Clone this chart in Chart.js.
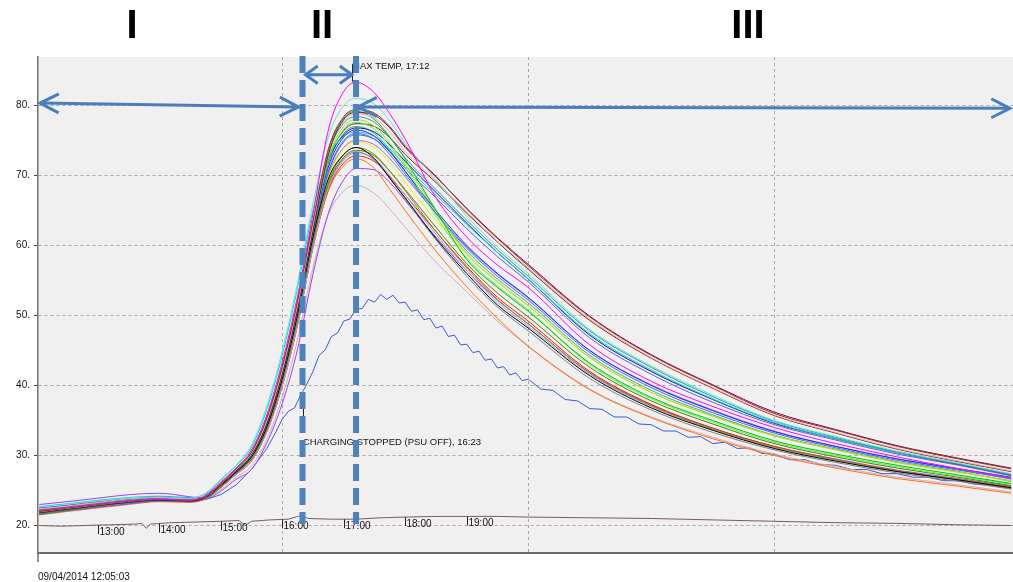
<!DOCTYPE html>
<html>
<head>
<meta charset="utf-8">
<title>Cell temperatures</title>
<script src="https://cdn.jsdelivr.net/npm/chart.js@4.4.0/dist/chart.umd.min.js"></script>
<style>
  html, body { margin: 0; padding: 0; background: #fff; }
  canvas { display: block; }
</style>
</head>
<body>
<canvas id="chart" width="1013" height="582"></canvas>
<script>
// Battery cell temperatures during charge test, started 09/04/2014 12:05:03.
// Hours are decimal clock time (27.85 = 03:51 next day).

const HOURS = [12.05, 12.5, 13, 13.5, 14, 14.5, 14.75, 15, 15.25, 15.5, 15.75, 16, 16.25, 16.5, 16.75, 17,
  17.2, 17.5, 17.75, 18, 18.5, 19, 19.5, 20, 21, 22, 23, 24, 25, 26, 27, 27.85];

const t01 = [22.2, 22.6, 23.1, 23.5, 23.8, 23.6, 24.3, 26.2, 28.2, 30.8, 35.8, 43.3, 52.8, 64.5, 76.5, 82.0, 83.3, 81.8, 78.8, 75.2, 66.8, 61.2, 57.2, 54.0, 45.8, 40.6, 37.0, 34.0, 31.7, 29.8, 28.1, 26.8];
const t02 = [22.6, 23.0, 23.5, 23.9, 24.1, 23.9, 24.6, 26.6, 28.6, 31.5, 37.1, 44.9, 54.7, 66.0, 75.5, 80.0, 81.0, 80.2, 77.8, 74.6, 69.4, 64.2, 59.8, 56.0, 48.0, 42.8, 38.6, 35.0, 32.7, 30.6, 28.9, 27.4];
const t03 = [22.0, 22.5, 23.0, 23.5, 23.7, 23.6, 24.2, 26.0, 28.1, 30.5, 35.4, 42.7, 52.1, 63.5, 73.8, 78.4, 79.4, 78.9, 77.0, 74.2, 69.9, 65.2, 61.0, 57.1, 49.8, 44.3, 40.0, 36.0, 33.6, 31.3, 29.5, 28.1];
const t04 = [21.8, 22.3, 22.8, 23.3, 23.6, 23.5, 24.0, 25.8, 27.8, 30.0, 34.5, 41.5, 50.8, 62.0, 73.0, 78.0, 79.0, 78.6, 76.8, 74.0, 69.8, 65.3, 61.1, 57.3, 49.9, 44.4, 40.1, 36.2, 33.7, 31.4, 29.6, 28.2];
const t05 = [22.4, 22.8, 23.3, 23.8, 24.0, 23.8, 24.1, 25.9, 27.9, 30.3, 34.9, 42.1, 51.5, 62.7, 73.2, 77.8, 78.8, 78.2, 76.2, 73.4, 69.2, 64.8, 60.6, 56.8, 49.5, 44.0, 39.7, 35.8, 33.3, 31.0, 29.2, 27.8];
const t06 = [22.1, 22.6, 23.1, 23.6, 23.9, 23.7, 24.2, 26.0, 28.1, 30.5, 35.4, 42.7, 52.1, 63.5, 73.2, 77.5, 78.4, 77.6, 75.4, 72.5, 68.0, 63.6, 59.4, 55.6, 47.8, 42.6, 38.4, 34.9, 32.6, 30.5, 28.8, 27.3];
const t07 = [21.7, 22.2, 22.8, 23.3, 23.6, 23.5, 24.1, 25.9, 27.9, 30.3, 34.9, 42.1, 51.5, 62.7, 73.5, 78.2, 79.2, 78.0, 75.5, 72.3, 65.0, 58.0, 54.0, 50.6, 43.2, 38.3, 35.0, 32.1, 30.2, 28.6, 27.2, 26.0];
const t08 = [22.3, 22.7, 23.2, 23.6, 23.9, 23.7, 24.0, 25.8, 27.8, 30.0, 34.5, 41.5, 50.8, 62.0, 72.0, 76.6, 77.6, 76.6, 74.2, 71.2, 64.2, 58.2, 54.2, 50.8, 43.0, 38.1, 34.8, 31.9, 30.0, 28.4, 27.0, 25.9];
const t09 = [21.9, 22.4, 22.9, 23.4, 23.7, 23.6, 24.1, 25.9, 27.9, 30.3, 34.9, 42.1, 51.5, 62.7, 72.6, 77.0, 78.0, 77.0, 74.6, 71.6, 65.0, 58.8, 54.8, 51.4, 44.0, 39.0, 35.6, 32.8, 30.8, 29.0, 27.6, 26.4];
const t10 = [22.0, 22.4, 22.9, 23.4, 23.7, 23.5, 24.0, 25.7, 27.6, 29.8, 34.1, 41.0, 50.2, 61.2, 69.5, 73.0, 74.0, 72.4, 69.6, 66.8, 61.0, 56.0, 51.5, 48.2, 41.4, 36.8, 33.6, 31.0, 29.2, 27.7, 26.5, 25.4];
const t11 = [22.5, 22.9, 23.4, 23.8, 24.1, 23.9, 24.0, 25.8, 27.8, 30.0, 34.5, 41.5, 50.8, 62.0, 71.2, 75.5, 76.5, 75.6, 73.4, 70.6, 65.0, 60.0, 56.0, 52.6, 45.0, 40.0, 36.4, 33.4, 31.3, 29.5, 28.1, 26.9];
const t12 = [21.6, 22.1, 22.6, 23.1, 23.5, 23.4, 24.0, 25.7, 27.6, 29.8, 34.1, 41.0, 50.2, 61.2, 70.6, 75.0, 76.0, 75.2, 73.0, 70.2, 64.6, 59.6, 55.6, 52.2, 44.7, 39.7, 36.1, 33.2, 31.1, 29.3, 27.9, 26.7];
const t13 = [22.2, 22.6, 23.1, 23.6, 23.9, 23.7, 24.0, 25.7, 27.6, 29.8, 34.1, 41.0, 50.2, 61.2, 70.4, 74.8, 75.8, 75.2, 73.4, 71.0, 66.8, 62.4, 58.4, 54.8, 46.8, 41.6, 37.6, 34.4, 32.2, 30.2, 28.6, 27.1];
const t14 = [22.7, 23.1, 23.6, 24.0, 24.2, 24.0, 24.5, 26.5, 28.5, 31.2, 36.6, 44.3, 54.0, 65.0, 72.6, 75.6, 76.2, 75.6, 73.8, 71.4, 67.2, 63.0, 59.0, 55.2, 47.4, 42.2, 38.1, 34.7, 32.4, 30.4, 28.8, 27.3];
const t15 = [22.0, 22.5, 23.0, 23.5, 23.8, 23.6, 24.0, 25.7, 27.6, 29.8, 34.1, 41.0, 50.2, 61.2, 69.8, 73.8, 74.8, 74.0, 71.8, 69.0, 63.6, 58.8, 54.8, 51.4, 44.0, 39.0, 35.6, 32.8, 30.8, 29.0, 27.6, 26.4];
const t16 = [21.8, 22.3, 22.8, 23.3, 23.6, 23.5, 23.9, 25.5, 27.5, 29.5, 33.8, 40.6, 49.6, 60.6, 69.0, 73.0, 74.0, 73.0, 70.6, 67.8, 62.0, 56.8, 52.3, 48.8, 41.8, 37.1, 33.8, 31.2, 29.4, 27.8, 26.6, 25.5];
const t17 = [22.3, 22.7, 23.2, 23.7, 24.0, 23.8, 23.9, 25.5, 27.5, 29.5, 33.8, 40.6, 49.6, 60.6, 68.8, 72.6, 73.6, 72.8, 70.6, 68.0, 62.6, 57.4, 53.2, 49.8, 42.6, 37.8, 34.5, 31.7, 29.8, 28.2, 26.9, 25.7];
const t18 = [21.6, 22.1, 22.6, 23.1, 23.5, 23.4, 23.9, 25.5, 27.5, 29.5, 33.8, 40.6, 49.6, 60.6, 68.6, 72.4, 73.4, 72.2, 69.6, 66.6, 60.8, 55.6, 51.2, 47.8, 41.0, 36.5, 33.3, 30.8, 29.0, 27.5, 26.3, 25.2];
const t19 = [22.1, 22.5, 23.0, 23.5, 23.8, 23.6, 23.8, 25.4, 27.3, 29.2, 33.4, 39.9, 48.7, 59.7, 68.2, 72.2, 73.2, 72.4, 70.0, 67.2, 61.6, 56.4, 51.9, 48.5, 41.6, 37.0, 33.7, 31.1, 29.3, 27.7, 26.5, 25.4];
const t20 = [21.9, 22.4, 22.9, 23.4, 23.7, 23.5, 23.8, 25.4, 27.3, 29.2, 33.4, 39.9, 48.7, 59.7, 68.0, 71.8, 72.8, 72.0, 69.8, 67.2, 62.0, 57.0, 52.6, 49.2, 42.0, 37.3, 33.9, 31.3, 29.4, 27.8, 26.5, 25.3];
const t21 = [21.5, 22.0, 22.5, 23.0, 23.4, 23.3, 23.8, 25.4, 27.3, 29.2, 33.4, 39.9, 48.7, 59.7, 67.8, 71.4, 72.4, 71.0, 68.0, 65.0, 59.2, 54.1, 49.6, 45.6, 39.4, 35.4, 32.4, 30.0, 28.2, 26.7, 25.6, 24.6];
const t22 = [23.0, 23.4, 23.9, 24.4, 24.6, 24.1, 23.8, 24.9, 26.6, 28.0, 31.8, 37.4, 45.2, 55.9, 64.6, 69.4, 71.0, 70.8, 69.0, 66.4, 61.2, 56.4, 52.2, 48.8, 41.8, 37.2, 33.9, 31.3, 29.5, 27.9, 26.7, 25.6];
const t23 = [21.7, 22.2, 22.7, 23.2, 23.5, 23.4, 23.8, 25.1, 26.9, 28.5, 32.3, 38.3, 46.6, 56.8, 64.4, 67.8, 68.6, 67.4, 65.2, 62.6, 57.6, 53.4, 49.2, 45.6, 39.5, 35.5, 32.6, 30.2, 28.4, 26.9, 25.8, 24.8];
const t24 = [22.4, 22.8, 23.3, 23.7, 24.0, 23.8, 23.9, 25.5, 27.5, 29.5, 33.8, 40.6, 49.6, 60.6, 70.0, 74.0, 75.0, 74.4, 72.4, 69.8, 64.6, 59.8, 55.9, 52.5, 45.0, 40.1, 36.5, 33.5, 31.3, 29.5, 28.0, 26.6];
const t25 = [22.2, 22.6, 23.1, 23.6, 23.9, 23.7, 24.0, 25.8, 27.8, 30.0, 34.5, 41.5, 50.8, 62.0, 72.2, 76.4, 77.4, 77.0, 75.4, 73.0, 69.0, 64.6, 60.5, 56.6, 49.3, 43.9, 39.6, 35.7, 33.2, 30.9, 29.1, 27.7];
const t26 = [21.9, 22.3, 22.8, 23.3, 23.6, 23.5, 24.1, 25.9, 27.9, 30.3, 34.9, 42.1, 51.5, 62.7, 72.0, 75.8, 76.8, 76.2, 74.4, 72.0, 67.6, 63.2, 59.0, 55.2, 47.2, 42.0, 38.0, 34.6, 32.4, 30.4, 28.7, 27.2];
const t27 = [22.5, 22.9, 23.4, 23.8, 24.0, 23.8, 24.0, 25.8, 27.8, 30.0, 34.5, 41.5, 50.8, 62.0, 71.6, 76.0, 77.0, 76.0, 73.6, 70.6, 64.6, 59.2, 55.2, 51.8, 44.3, 39.3, 35.8, 32.9, 30.9, 29.1, 27.7, 26.3];

const CELLS = [t01, t02, t03, t04, t05, t06, t07, t08, t09, t10, t11, t12, t13, t14, t15, t16, t17, t18, t19,
  t20, t21, t22, t23, t24, t25, t26, t27];

// the one cell that stayed much cooler (noisy trace)
const COOL_HOURS = [12.05, 12.5, 13, 13.5, 14, 14.5, 14.75, 15, 15.25, 15.5, 15.75, 15.9,
  16.0, 16.1, 16.2, 16.3, 16.4, 16.5, 16.6, 16.7, 16.8, 16.9, 17.0, 17.1, 17.2, 17.3, 17.4, 17.5, 17.6, 17.7,
  17.8, 17.9, 18.0, 18.1, 18.2, 18.3, 18.4, 18.5, 18.6, 18.7, 18.8, 18.9, 19.0, 19.1, 19.2, 19.3, 19.4, 19.5,
  19.6, 19.7, 19.8, 19.9, 20.0, 20.2, 20.4, 20.6, 20.8, 21.0, 21.2, 21.4, 21.6, 21.8, 22.0, 22.2, 22.4, 22.6,
  22.8, 23.0, 23.2, 23.4, 23.6, 23.8, 24.0, 24.25, 24.5, 24.75, 25.0, 25.25, 25.5, 25.75, 26.0, 26.25, 26.5,
  26.75, 27.0, 27.25, 27.5, 27.85];
const COOL_TEMPS = [22.0, 22.5, 23.0, 23.4, 23.6, 23.4, 23.7, 24.4, 25.8, 28.0, 31.0, 33.4,
  35.2, 36.3, 36.8, 38.6, 40.2, 42.0, 44.3, 45.1, 47.0, 47.5, 49.2, 49.5, 50.9, 51.0, 52.3, 51.9, 53.0, 52.3,
  52.9, 51.8, 51.9, 50.6, 50.8, 49.4, 49.6, 48.2, 48.5, 47.0, 47.2, 45.8, 45.9, 44.7, 44.9, 43.6, 43.8, 42.5,
  42.7, 41.5, 41.8, 40.7, 40.9, 39.5, 39.3, 38.0, 37.8, 36.7, 36.6, 35.5, 35.5, 34.5, 34.4, 33.5, 33.5, 32.6,
  32.7, 31.7, 31.9, 31.0, 31.1, 30.3, 30.2, 29.4, 29.4, 28.7, 28.6, 28.0, 28.0, 27.4, 27.4, 26.9, 26.9,
  26.4, 26.4, 25.9, 25.8, 25.3];

// ambient probe
const AMB_HOURS = [12.05, 12.4, 12.8, 13.2, 13.6, 13.72, 13.79, 13.86, 14.2, 14.6, 15, 15.3, 15.4, 15.5, 15.8, 16.1,
  16.25, 16.32, 16.42, 16.8, 17.2, 17.6, 18, 18.5, 19, 19.5, 20, 21, 22, 23, 24, 25, 26, 27, 27.85];
const AMB_TEMPS = [20.0, 19.9, 20.0, 20.1, 20.2, 20.3, 19.6, 20.2, 20.4, 20.5, 20.6, 20.7, 20.0, 20.6, 20.8, 20.9,
  21.3, 21.4, 21.0, 20.9, 20.9, 21.1, 21.2, 21.3, 21.3, 21.3, 21.2, 21.1, 21.0, 20.8, 20.6, 20.4, 20.3, 20.1, 20.0];

const HOUR_LABELS = [13, 14, 15, 16, 17, 18, 19];
const Y_TICKS = [20, 30, 40, 50, 60, 70, 80];
const X_GRID = [16, 20, 24];
const CHARGE_STOP = 16 + 23 / 60;
const MAX_TEMP = 17 + 12 / 60;
const PHASE_EDGES = [16.33, MAX_TEMP];
const PHASES = ["I", "II", "III"];

const CELL_COLORS = ["#ff00ff", "#70e0c8", "#804020", "#800060", "#f8a8a0", "#20a0a0", "#00c000", "#40ff40",
  "#a8d820", "#000000", "#2020ff", "#4070e0", "#6a5acd", "#00d8e0", "#f0f000", "#909000", "#508000", "#808080",
  "#90a8ff", "#ff1010", "#ff7010", "#a040f0", "#d8a8b8", "#9070e0", "#802020", "#101090", "#40b080"];
const FONT = '"Liberation Sans", Arial, sans-serif';
const ARROW = "#4a7ebb";

const pts = (xs, ys) => ys.map((y, i) => ({ x: xs[i], y }));

function ambientAt(h) {
  for (let i = 1; i < AMB_HOURS.length; i++) {
    if (h <= AMB_HOURS[i]) {
      const f = (h - AMB_HOURS[i - 1]) / (AMB_HOURS[i] - AMB_HOURS[i - 1]);
      return AMB_TEMPS[i - 1] + f * (AMB_TEMPS[i] - AMB_TEMPS[i - 1]);
    }
  }
  return AMB_TEMPS[AMB_TEMPS.length - 1];
}

function arrowHead(ctx, x, y, ang, len, spread) {
  ctx.beginPath();
  ctx.moveTo(x + len * Math.cos(ang + spread), y + len * Math.sin(ang + spread));
  ctx.lineTo(x, y);
  ctx.lineTo(x + len * Math.cos(ang - spread), y + len * Math.sin(ang - spread));
  ctx.stroke();
}

function arrow(ctx, x1, y1, x2, y2, len, spread) {
  ctx.beginPath();
  ctx.moveTo(x1, y1);
  ctx.lineTo(x2, y2);
  ctx.stroke();
  const a = Math.atan2(y2 - y1, x2 - x1);
  arrowHead(ctx, x1, y1, a, len, spread);
  arrowHead(ctx, x2, y2, a + Math.PI, len, spread);
}

const overlay = {
  id: "overlay",
  beforeDraw(chart) {
    const { ctx, chartArea: a } = chart;
    ctx.save();
    ctx.fillStyle = "#fff";
    ctx.fillRect(0, 0, chart.width, chart.height);
    ctx.fillStyle = "#f0f0f0";
    ctx.fillRect(a.left, a.top, a.right - a.left, a.bottom - a.top);
    ctx.restore();
  },
  afterDraw(chart) {
    const { ctx, chartArea: a } = chart;
    const xs = chart.scales.x, ys = chart.scales.y;
    ctx.save();

    // left axis runs a little below the plot
    ctx.strokeStyle = "#707070";
    ctx.lineWidth = 1.5;
    ctx.beginPath();
    ctx.moveTo(a.left, a.bottom);
    ctx.lineTo(a.left, a.bottom + 9);
    ctx.stroke();

    // hour marks hang off the ambient trace
    ctx.font = "10px " + FONT;
    ctx.fillStyle = "#111";
    ctx.strokeStyle = "#222";
    ctx.lineWidth = 1;
    ctx.textBaseline = "middle";
    ctx.textAlign = "left";
    for (const h of HOUR_LABELS) {
      const x = Math.round(xs.getPixelForValue(h)) + 0.5;
      const y = ys.getPixelForValue(ambientAt(h));
      ctx.beginPath();
      ctx.moveTo(x, y);
      ctx.lineTo(x, y + 9);
      ctx.stroke();
      ctx.fillText(h + ":00", x + 1, y + 7);
    }

    // event notes
    ctx.font = "9.5px " + FONT;
    const xm = xs.getPixelForValue(MAX_TEMP);
    ctx.beginPath();
    ctx.moveTo(Math.round(xm) - 3.5, ys.getPixelForValue(85.9));
    ctx.lineTo(Math.round(xm) - 3.5, ys.getPixelForValue(83.4));
    ctx.stroke();
    ctx.fillText("MAX TEMP, 17:12", xm - 4, ys.getPixelForValue(85.6));

    const xc = xs.getPixelForValue(CHARGE_STOP);
    ctx.beginPath();
    ctx.moveTo(Math.round(xc) - 2.5, ys.getPixelForValue(38.9));
    ctx.lineTo(Math.round(xc) - 2.5, ys.getPixelForValue(35.0));
    ctx.stroke();
    ctx.fillText("CHARGING STOPPED (PSU OFF), 16:23", xc - 3, ys.getPixelForValue(31.9));

    // phase boundaries
    const e0 = xs.getPixelForValue(PHASE_EDGES[0]);
    const e1 = xs.getPixelForValue(PHASE_EDGES[1]);
    ctx.strokeStyle = "#4f81bd";
    ctx.lineWidth = 6;
    ctx.setLineDash([17, 7]);
    for (const x of [e0, e1]) {
      ctx.beginPath();
      ctx.moveTo(x, a.top - 1);
      ctx.lineTo(x, ys.getPixelForValue(20.2));
      ctx.stroke();
    }
    ctx.setLineDash([]);

    // phase arrows
    ctx.strokeStyle = ARROW;
    ctx.lineWidth = 3;
    ctx.lineJoin = "miter";
    arrow(ctx, a.left + 2, ys.getPixelForValue(80.35), e0 - 4, ys.getPixelForValue(79.8), 21, 0.47);
    arrow(ctx, e0 + 3, ys.getPixelForValue(84.4), e1 - 4, ys.getPixelForValue(84.4), 15, 0.62);
    arrow(ctx, e1 + 2, ys.getPixelForValue(79.8), a.right - 3, ys.getPixelForValue(79.6), 21, 0.47);

    // phase numerals
    ctx.fillStyle = "#000";
    ctx.font = "bold 40px " + FONT;
    ctx.textAlign = "center";
    ctx.textBaseline = "alphabetic";
    const numX = [132, 322, 748];
    PHASES.forEach((p, i) => ctx.fillText(p, numX[i], 38));

    // start stamp
    ctx.font = "10px " + FONT;
    ctx.textAlign = "left";
    ctx.textBaseline = "middle";
    ctx.fillStyle = "#111";
    ctx.fillText("09/04/2014 12:05:03", a.left, 577);
    ctx.restore();
  },
};

const datasets = CELLS.map((c, i) => ({
  data: pts(HOURS, c),
  borderColor: CELL_COLORS[i],
  borderWidth: 1,
  cubicInterpolationMode: "monotone",
}));
datasets.push({ data: pts(COOL_HOURS, COOL_TEMPS), borderColor: "#3c5cc8", borderWidth: 1, tension: 0 });
datasets.push({ data: pts(AMB_HOURS, AMB_TEMPS), borderColor: "#7a5c52", borderWidth: 1, tension: 0 });

Chart.defaults.font.family = FONT;

new Chart(document.getElementById("chart"), {
  type: "line",
  data: { datasets },
  options: {
    responsive: false,
    animation: false,
    events: [],
    layout: { padding: { top: 57, left: 0, right: 0, bottom: 0 } },
    elements: { point: { radius: 0 } },
    plugins: { legend: { display: false }, tooltip: { enabled: false } },
    scales: {
      x: {
        type: "linear",
        min: 12.03,
        max: 27.88,
        afterBuildTicks: (s) => { s.ticks = X_GRID.map((v) => ({ value: v })); },
        afterFit: (s) => { s.height = 29; },
        ticks: { display: false },
        grid: { color: "#a8a8a8", drawTicks: false },
        border: { color: "#6a6a6a", width: 2, dash: [3, 3] },
      },
      y: {
        min: 16.07,
        max: 86.93,
        afterBuildTicks: (s) => { s.ticks = Y_TICKS.map((v) => ({ value: v })); },
        afterFit: (s) => { s.width = 38; },
        ticks: { color: "#111", font: { size: 10 }, padding: 4, callback: (v) => v + "." },
        grid: { color: "#a8a8a8", tickLength: 4, tickColor: "#444" },
        border: { color: "#707070", width: 1.5, dash: [3, 3] },
      },
    },
  },
  plugins: [overlay],
});
</script>
</body>
</html>
